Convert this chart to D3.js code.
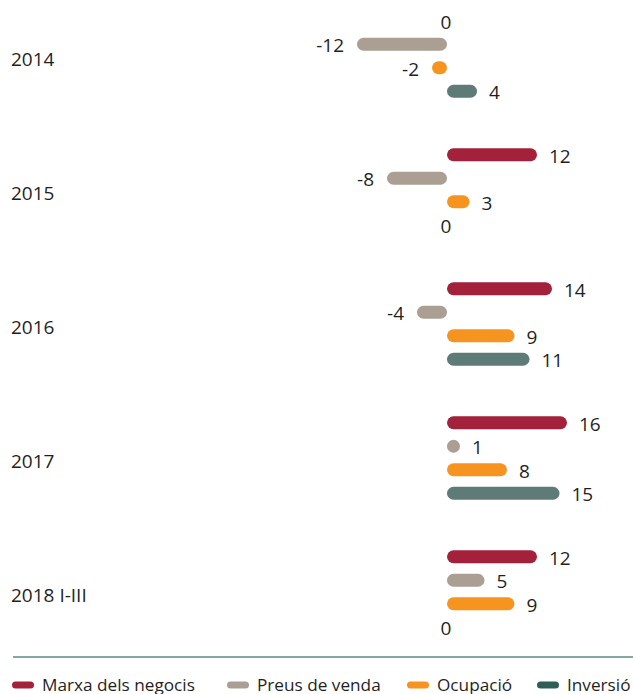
<!DOCTYPE html>
<html>
<head>
<meta charset="utf-8">
<script src="https://cdn.jsdelivr.net/npm/d3@7"></script>
<style>
  html, body { margin: 0; padding: 0; background: #fff; }
  svg { display: block; font-family: "Open Sans", "Noto Sans", sans-serif; }
</style>
</head>
<body>
<svg id="chart" width="633" height="694"></svg>
<script>
// Year groups and the four indicators shown in each group
const categories = ["2014", "2015", "2016", "2017", "2018 I-III"];
const seriesNames = ["Marxa dels negocis", "Preus de venda", "Ocupació", "Inversió"];
const seriesColors = ["#a3213a", "#ab9f93", "#f7941f", "#5f7b77"];
const legendColors = ["#a3213a", "#ab9f93", "#f7941f", "#2f5e57"];

// Balance values per indicator, one entry per year group
const marxaValues = [0, 12, 14, 16, 12];
const preusValues = [-12, -8, -4, 1, 5];
const ocupacioValues = [-2, 3, 9, 8, 9];
const inversioValues = [4, 0, 11, 15, 0];

const seriesValues = [marxaValues, preusValues, ocupacioValues, inversioValues];

const svg = d3.select("#chart");
const W = 633;

const x = d3.scaleLinear().domain([-12, 16]).range([357, 567]);
const y = d3.scaleBand().domain(categories).range([-11, 659]);
const inner = d3.scaleBand().domain(seriesNames).range([0, 94]);

const barH = 13;
const textColor = "#1f1f1f";

const rows = [];
categories.forEach((cat, ci) => {
  seriesNames.forEach((name, si) => {
    rows.push({ cat, name, si, value: seriesValues[si][ci] });
  });
});

const rowY = d => y(d.cat) + y.bandwidth() / 2 - 47 + inner(d.name) + inner.bandwidth() / 2;

// Category labels
svg.append("g").selectAll("text").data(categories).join("text")
  .attr("x", 11)
  .attr("y", d => y(d) + y.bandwidth() / 2 + 3)
  .attr("dominant-baseline", "central")
  .attr("font-size", 19)
  .attr("fill", textColor)
  .text(d => d);

const x0 = x(0);
const barWidth = d => Math.max(Math.abs(x(d.value) - x0), barH);

// Bars: rounded pills starting at zero, never narrower than their height
svg.append("g").selectAll("rect").data(rows.filter(d => d.value !== 0)).join("rect")
  .attr("x", d => d.value >= 0 ? x0 : x0 - barWidth(d))
  .attr("y", d => rowY(d) - barH / 2)
  .attr("width", barWidth)
  .attr("height", barH)
  .attr("rx", barH / 2)
  .attr("fill", d => seriesColors[d.si]);

// Value labels
svg.append("g").selectAll("text").data(rows).join("text")
  .attr("x", d => {
    if (d.value === 0) return x0 - 1;
    return d.value > 0 ? x0 + barWidth(d) + 12 : x0 - barWidth(d) - 13;
  })
  .attr("y", d => rowY(d) + 1)
  .attr("dominant-baseline", "central")
  .attr("text-anchor", d => d.value === 0 ? "middle" : d.value > 0 ? "start" : "end")
  .attr("font-size", 19)
  .attr("fill", textColor)
  .text(d => d.value);

// Separator above the legend
svg.append("line")
  .attr("x1", 13).attr("x2", W)
  .attr("y1", 657).attr("y2", 657)
  .attr("stroke", "#5e8880")
  .attr("stroke-width", 1.6);

// Legend: swatch positions along the bottom row
const legendX = [12, 227, 407, 537];
const legend = svg.append("g");
seriesNames.forEach((name, i) => {
  const g = legend.append("g").attr("transform", `translate(${legendX[i]},0)`);
  g.append("rect")
    .attr("x", 0).attr("y", 681.5)
    .attr("width", 22).attr("height", 7).attr("rx", 3.5)
    .attr("fill", legendColors[i]);
  g.append("text")
    .attr("x", 30).attr("y", 691)
    .attr("font-size", 17.2)
    .attr("fill", textColor)
    .text(name);
});
</script>
</body>
</html>
